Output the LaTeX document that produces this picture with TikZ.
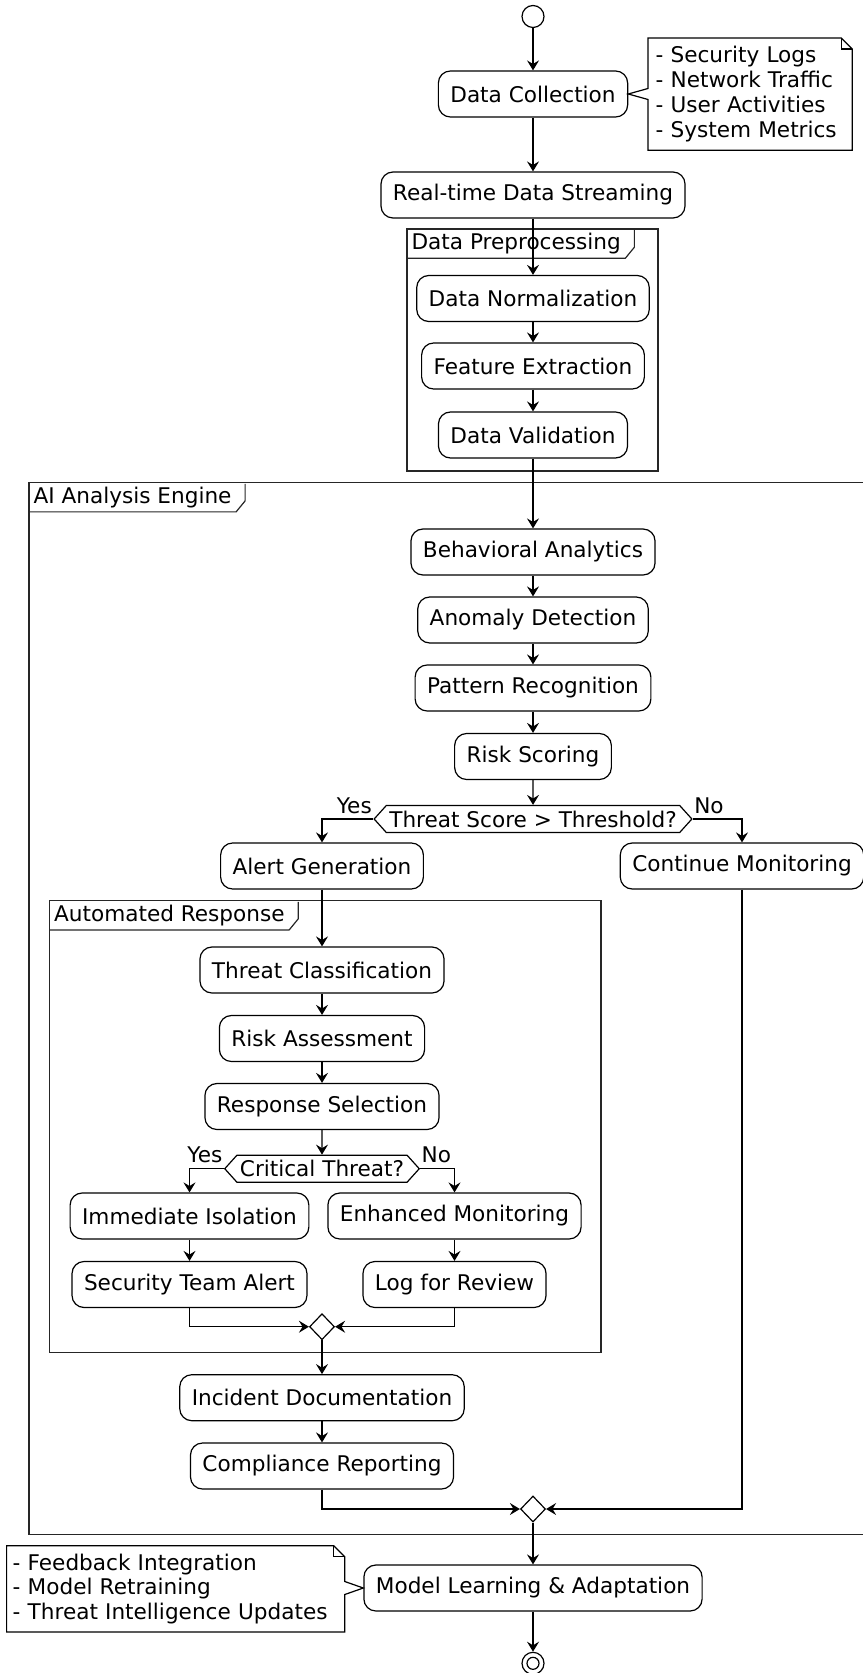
\documentclass[tikz,border=0pt]{standalone}
\usepackage{fontspec}
\setmainfont{DejaVu Sans}
\usepackage{tikz}
\usetikzlibrary{arrows.meta, calc, shapes.geometric, shapes.symbols}
\tikzset{>={Stealth[length=5pt, width=6pt, inset=1.8pt]}}
\tikzset{
  act/.style={draw, fill=white, rounded corners=6pt, minimum height=23pt, inner xsep=6pt,
    font=\fontsize{10.8}{12.35}\selectfont},
  choice/.style={signal, signal to=west and east, signal pointer angle=96, draw, fill=white,
    minimum height=13.5pt, inner ysep=0pt, inner xsep=1.5pt, font=\fontsize{10.8}{12.35}\selectfont},
  merge/.style={diamond, draw, fill=white, inner sep=0pt, minimum width=12.5pt, minimum height=13pt},
  grp/.style={draw=black!85},
  grplbl/.style={anchor=north west, inner xsep=2pt, inner ysep=0pt, minimum height=14pt,
    font=\fontsize{10.8}{12.35}\selectfont},
  notebox/.style={anchor=north west, align=left, inner ysep=0pt, font=\fontsize{10.8}{12.35}\selectfont},
  lbl/.style={inner sep=0pt, font=\fontsize{10.8}{12.35}\selectfont}
}

\begin{document}
\begin{tikzpicture}[x=0.5pt, y=-0.5pt, line width=0.6pt]
\useasboundingbox (0,0) rectangle (862,1673);

% frames
\draw[grp] (407,229) rectangle (658,471);
\node[grplbl] (preLbl) at (407,229) {Data Preprocessing};
\draw[grp] (preLbl.south west) -- (preLbl.south east) -- ++(9,-11) -- ++(0,-17);

\draw[grp] (29,482.7) rectangle (880,1534.3);
\node[grplbl] (aiLbl) at (29,482.7) {AI Analysis Engine};
\draw[grp] (aiLbl.south west) -- (aiLbl.south east) -- ++(9,-11) -- ++(0,-17);

\draw[grp] (49.5,900.7) rectangle (601,1352.7);
\node[grplbl] (autoLbl) at (49.5,900.7) {Automated Response};
\draw[grp] (autoLbl.south west) -- (autoLbl.south east) -- ++(9,-11) -- ++(0,-17);

% activities
\node[circle, draw, fill=white, minimum size=11pt, inner sep=0pt] (start) at (533,16.5) {};
\node[act] (dc) at (533,94) {Data Collection};
\node[act] (rt) at (533,195) {Real-time Data Streaming};
\node[act] (norm) at (533,298.5) {Data Normalization};
\node[act] (feat) at (533,366) {Feature Extraction};
\node[act] (valid) at (533,435) {Data Validation};
\node[act] (beh) at (533,552) {Behavioral Analytics};
\node[act] (anom) at (533,620) {Anomaly Detection};
\node[act] (patt) at (533,688) {Pattern Recognition};
\node[act] (risk) at (533,756.5) {Risk Scoring};
\node[choice] (thr) at (533,819) {Threat Score > Threshold?};
\node[act] (alert) at (322,866) {Alert Generation};
\node[act] (cont) at (742,866) {Continue Monitoring};
\node[act] (tcls) at (322,970) {Threat Classification};
\node[act] (rass) at (322,1038.5) {Risk Assessment};
\node[act] (rsel) at (322,1106.5) {Response Selection};
\node[choice] (crit) at (322,1168.7) {Critical Threat?};
\node[act] (iso) at (189.5,1216) {Immediate Isolation};
\node[act] (enh) at (454.5,1216) {Enhanced Monitoring};
\node[act] (sta) at (189.5,1284.5) {Security Team Alert};
\node[act] (logr) at (454.5,1284.5) {Log for Review};
\node[merge] (m1) at (322,1326.7) {};
\node[act] (inc) at (322,1397.7) {Incident Documentation};
\node[act] (comp) at (322,1466) {Compliance Reporting};
\node[merge] (m2) at (533,1509) {};
\node[act] (mla) at (533,1588) {Model Learning \& Adaptation};
\node[circle, draw, fill=white, minimum size=11pt, inner sep=0pt] (stop) at (533,1663.3) {};
\draw (stop.center) circle[radius=3pt];

% notes
\node[notebox, text width=94.5pt, inner xsep=3.5pt, minimum height=55.5pt] (n1) at (648,38)
  {- Security Logs\\- Network Traffic\\- User Activities\\- System Metrics};
\draw (n1.north west) -- ($(n1.north east)+(-11,0)$) -- ($(n1.north east)+(0,11)$)
  -- (n1.south east) -- (n1.south west) -- ($(n1.west |- dc.east)+(0,5.5)$) -- (dc.east)
  -- ($(n1.west |- dc.east)+(0,-5.5)$) -- cycle;
\draw ($(n1.north east)+(-11,0)$) -- ++(0,11) -- ++(11,0);

\node[notebox, text width=163pt, inner xsep=2.75pt, minimum height=42.5pt] (n2) at (6.6,1545.7)
  {- Feedback Integration\\- Model Retraining\\- Threat Intelligence Updates};
\draw (n2.north west) -- ($(n2.north east)+(-11,0)$) -- ($(n2.north east)+(0,11)$)
  -- ($(n2.east |- mla.west)+(0,-6.5)$) -- (mla.west) -- ($(n2.east |- mla.west)+(0,6.5)$)
  -- (n2.south east) -- (n2.south west) -- cycle;
\draw ($(n2.north east)+(-11,0)$) -- ++(0,11) -- ++(11,0);

% flow
\foreach \a/\b in {start/dc, dc/rt, rt/norm, norm/feat, feat/valid, valid/beh, beh/anom,
  anom/patt, patt/risk, risk/thr, alert/tcls, tcls/rass, rass/rsel, rsel/crit, iso/sta,
  enh/logr, m1/inc, inc/comp, m2/mla, mla/stop}
  \draw[->] (\a) -- (\b);

\draw[->] (thr.west) -| (alert);
\draw[->] (thr.east) -| (cont);
\draw[->] (crit.west) -| (iso);
\draw[->] (crit.east) -| (enh);
\draw[->] (sta) |- (m1);
\draw[->] (logr) |- (m1);
\draw[->] (comp) |- (m2);
\draw[->] (cont) |- (m2);

\node[lbl, anchor=base east] (yes1) at ($(thr.west)+(-1,-6)$) {Yes};
\node[lbl, anchor=base west] (no1) at ($(thr.east)+(1,-6)$) {No};
\node[lbl, anchor=base east] (yes2) at ($(crit.west)+(-1,-6)$) {Yes};
\node[lbl, anchor=base west] (no2) at ($(crit.east)+(1,-6)$) {No};
\end{tikzpicture}
\end{document}
